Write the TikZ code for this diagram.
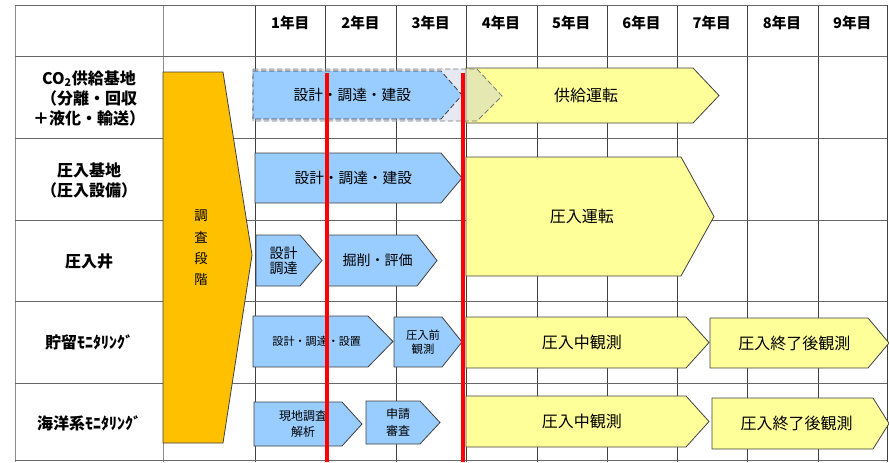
\documentclass[tikz,border=0pt]{standalone}
\usepackage{fontspec}
\setmainfont{Noto Sans CJK JP}
\definecolor{colorSurvey}{HTML}{FFC000}
\definecolor{colorBuild}{HTML}{99CCFF}
\definecolor{colorRun}{HTML}{FFFF99}
\definecolor{colorGhost}{HTML}{BCC6DA}
\definecolor{colorGrid}{HTML}{404040}
\definecolor{colorMilestone}{HTML}{FF0000}
\tikzset{
  grid line/.style={colorGrid, line width=0.6pt},
  build bar/.style={fill=colorBuild, draw=colorGrid, line width=0.6pt},
  run bar/.style={fill=colorRun, draw=colorGrid, line width=0.6pt},
  ghost bar/.style={fill=colorGhost, fill opacity=0.38, draw=colorGrid!70, dash pattern=on 4pt off 2pt, line width=0.6pt},
  bar text/.style={align=center, inner sep=0pt, text=black},
  year label/.style={font=\bfseries\fontsize{11}{13}\selectfont},
  row label/.style={align=center, font=\bfseries\fontsize{12}{15}\selectfont},
  milestone/.style={colorMilestone, line width=3pt}
}
% fill style, text style, name, left, body end, tip, top, bottom, text
\newcommand{\phasebar}[9]{%
  \filldraw[#1] (#4,#7) -- (#5,#7) -- (#6,{(#7+#8)/2}) -- (#5,#8) -- (#4,#8) -- cycle;
  \node[bar text, #2] (#3) at ({(2*#4+#5+#6)/4},{(#7+#8)/2}) {#9};}

\begin{document}
\begin{tikzpicture}[x=0.75pt, y=-0.75pt]
\useasboundingbox (0,0) rectangle (889,462);
% table
\foreach \gx in {15,163}
  \draw[grid line, colorGrid!60] (\gx,5) -- (\gx,462);
\foreach \gx in {255,325.5,396,466,537,607,677,747,818,887}
  \draw[grid line] (\gx,5) -- (\gx,462);
\foreach \gy in {5,56,138,220,301,383,460}
  \draw[grid line, colorGrid!80] (15,\gy) -- (887,\gy);
\foreach \yr in {1,...,9}
  \node[year label] (year\yr) at ({290.25+70.25*(\yr-1)},23) {\yr 年目};
\node[row label] (lblSupply) at (89,98) {CO\textsubscript{2}供給基地\\（分離・回収\\＋液化・輸送）};
\node[row label] (lblInject) at (89,180) {圧入基地\\（圧入設備）};
\node[row label] (lblWell) at (89,261) {圧入井};
\node[row label] (lblStore) at (89,342) {貯留ﾓﾆﾀﾘﾝｸﾞ};
\node[row label] (lblSea) at (89,423) {海洋系ﾓﾆﾀﾘﾝｸﾞ};
% survey phase
\filldraw[fill=colorSurvey, draw=colorGrid, line width=0.6pt] (163,72) -- (223,72) -- (252,255) -- (223,443) -- (163,443) -- cycle;
\node[bar text, font=\fontsize{10}{16}\selectfont] (survey) at (201,248) {調\\査\\段\\階};
% supply base
\phasebar{run bar}{font=\fontsize{12}{14}\selectfont}{opSupply}{466}{693}{719}{68}{123}{供給運転}
\filldraw[ghost bar] (253,69) -- (477,69) -- (502,96) -- (477,121) -- (253,121) -- cycle;
\phasebar{build bar, dash pattern=on 4pt off 2pt}{font=\fontsize{11}{13}\selectfont}{bsSupply}{253}{441}{462}{71}{119}{設計・調達・建設}
% injection base
\phasebar{build bar}{font=\fontsize{11}{13}\selectfont}{bsInject}{255}{441}{462}{153}{203}{設計・調達・建設}
\phasebar{run bar}{font=\fontsize{12}{14}\selectfont}{opInject}{466}{681}{714}{157}{276}{圧入運転}
% injection well
\phasebar{build bar}{font=\fontsize{10.5}{11.5}\selectfont}{dwWell}{256}{300}{322}{235}{286}{設計\\調達}
\phasebar{build bar}{font=\fontsize{10.5}{12}\selectfont}{drWell}{328}{417}{437}{235}{286}{掘削・評価}
% storage monitoring
\phasebar{build bar}{font=\fontsize{8.3}{10}\selectfont}{dsStore}{253}{368}{393}{316}{367}{設計・調達・設置}
\phasebar{build bar}{font=\fontsize{8.5}{10.5}\selectfont}{preStore}{394}{442}{462}{317}{367}{圧入前\\観測}
\phasebar{run bar}{font=\fontsize{12}{14}\selectfont}{midStore}{466}{686}{709}{317}{368}{圧入中観測}
\phasebar{run bar}{font=\fontsize{12}{14}\selectfont}{postStore}{710}{868}{889}{318}{368}{圧入終了後観測}
% marine monitoring
\phasebar{build bar}{font=\fontsize{9}{12.5}\selectfont}{srvSea}{254}{342}{362}{402}{446}{現地調査\\解析}
\phasebar{build bar}{font=\fontsize{9}{12.5}\selectfont}{appSea}{366}{420}{440}{401}{444}{申請\\審査}
\phasebar{run bar}{font=\fontsize{12}{14}\selectfont}{midSea}{466}{686}{709}{396}{447}{圧入中観測}
\phasebar{run bar}{font=\fontsize{12}{14}\selectfont}{postSea}{712}{873}{889}{398}{449}{圧入終了後観測}
% milestones
\draw[milestone] (327,73) -- (327,462);
\draw[milestone] (463,73) -- (463,462);
\end{tikzpicture}
\end{document}
